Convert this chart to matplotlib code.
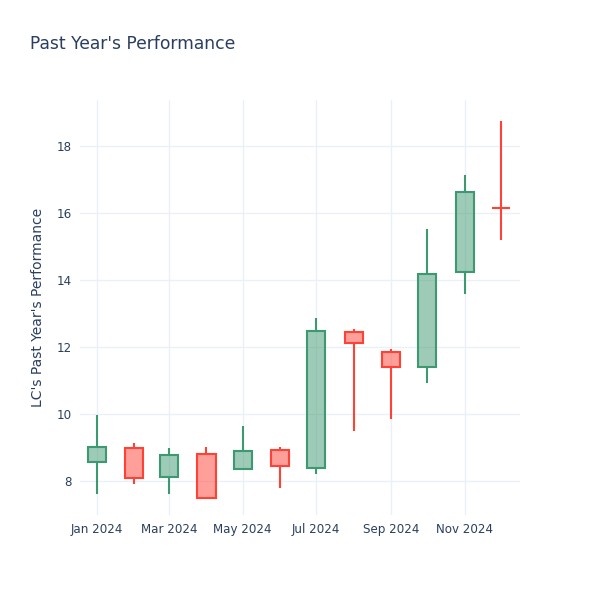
import pandas as pd
import matplotlib.pyplot as plt
import matplotlib.dates as mdates

# Maandelijkse koersdata
maanden = pd.date_range('2024-01-01', periods=12, freq='MS')
open_ = [8.57, 9.00, 8.13, 8.83, 8.38, 8.95, 8.41, 12.44, 11.86, 11.42, 14.25, 16.15]
high = [9.97, 9.14, 9.00, 9.02, 9.64, 9.02, 12.86, 12.53, 11.94, 15.51, 17.13, 18.75]
low = [7.62, 7.93, 7.62, 7.49, 8.38, 7.81, 8.23, 9.49, 9.87, 10.92, 13.60, 15.21]
close = [9.02, 8.10, 8.80, 7.50, 8.90, 8.45, 12.49, 12.14, 11.42, 14.18, 16.64, 16.15]

tekst = '#2a3f5f'
groen = '#3D9970'
rood = '#FF4136'

fig = plt.figure(figsize=(6, 6), dpi=100)
ax = fig.add_axes([80/600, 85/600, 440/600, 415/600])

for d, o, h, l, c in zip(maanden, open_, high, low, close):
    kleur = groen if c > o else rood
    onder, boven = min(o, c), max(o, c)
    ax.vlines(d, l, onder, color=kleur, lw=1.5, zorder=3)
    ax.vlines(d, boven, h, color=kleur, lw=1.5, zorder=3)
    ax.bar(d, boven - onder, bottom=onder, width=15, color=kleur, alpha=0.5, zorder=3)
    ax.bar(d, boven - onder, bottom=onder, width=15, fill=False, edgecolor=kleur, lw=1.5, zorder=4)

ax.set_xlim(pd.Timestamp('2023-12-18 05:00'), pd.Timestamp('2024-12-16 19:00'))
ax.set_ylim(7.0, 19.37)
ax.set_yticks([8, 10, 12, 14, 16, 18])
ax.set_xticks(pd.date_range('2024-01-01', periods=6, freq='2MS'))
ax.xaxis.set_major_formatter(mdates.DateFormatter('%b %Y'))

ax.grid(True, color='#ebf0f8', lw=1, zorder=0)
for s in ax.spines.values():
    s.set_visible(False)
ax.tick_params(length=0, labelsize=8.6, labelcolor=tekst, pad=6)

ax.set_ylabel("LC's Past Year's Performance", fontsize=10, color=tekst, labelpad=8)
fig.text(30/600, 1 - 44/600, "Past Year's Performance", fontsize=12.3, color=tekst, va='center')

plt.savefig('out.png', dpi=100)
